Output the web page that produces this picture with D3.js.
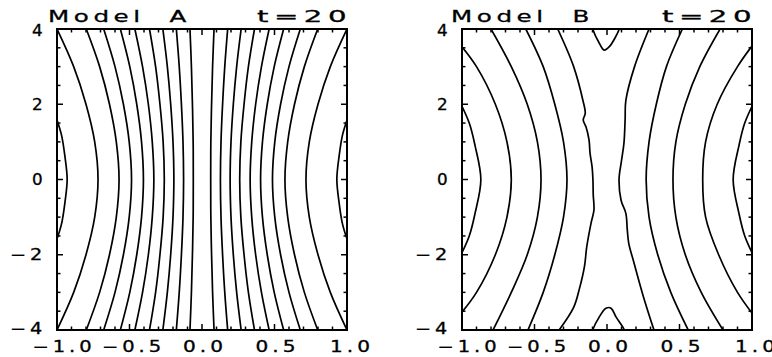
<!DOCTYPE html>
<html><head><meta charset="utf-8">
<script src="https://cdn.jsdelivr.net/npm/d3@7"></script>
<style>body{margin:0;background:#fff;} svg{display:block}</style>
</head><body><svg id="c" width="772" height="357"></svg>
<script>
// ---------- data ----------
const xTicks = [-1.0, -0.5, 0.0, 0.5, 1.0];
const xTickLabels = ["−1.0", "−0.5", "0.0", "0.5", "1.0"];
const yTicks = [-4, -2, 0, 2, 4];
const yTickLabels = ["−4", "−2", "0", "2", "4"];
const panelTitles = ["Model A", "Model B"];
const timeLabel = "t=20";

// Model A: x position of each contour at these y levels
const modelA_yLevels = [4, 3, 2, 1, 0, -1, -2, -3, -4];
const modelA_lines = [
  [-1.0, -0.885, -0.80, -0.74, -0.717, -0.74, -0.80, -0.885, -1.0],
  [-0.798, -0.706, -0.638, -0.591, -0.572, -0.591, -0.638, -0.706, -0.798],
  [-0.678, -0.600, -0.542, -0.502, -0.486, -0.502, -0.542, -0.600, -0.678],
  [-0.563, -0.498, -0.450, -0.417, -0.404, -0.417, -0.450, -0.498, -0.563],
  [-0.463, -0.410, -0.370, -0.343, -0.332, -0.343, -0.370, -0.410, -0.463],
  [-0.362, -0.320, -0.290, -0.268, -0.260, -0.268, -0.290, -0.320, -0.362],
  [-0.270, -0.239, -0.216, -0.200, -0.194, -0.200, -0.216, -0.239, -0.270],
  [-0.177, -0.157, -0.142, -0.131, -0.127, -0.131, -0.142, -0.157, -0.177],
  [-0.083, -0.073, -0.066, -0.061, -0.060, -0.061, -0.066, -0.073, -0.083],
  [0.083, 0.073, 0.066, 0.061, 0.060, 0.061, 0.066, 0.073, 0.083],
  [0.177, 0.157, 0.142, 0.131, 0.127, 0.131, 0.142, 0.157, 0.177],
  [0.270, 0.239, 0.216, 0.200, 0.194, 0.200, 0.216, 0.239, 0.270],
  [0.362, 0.320, 0.290, 0.268, 0.260, 0.268, 0.290, 0.320, 0.362],
  [0.463, 0.410, 0.370, 0.343, 0.332, 0.343, 0.370, 0.410, 0.463],
  [0.563, 0.498, 0.450, 0.417, 0.404, 0.417, 0.450, 0.498, 0.563],
  [0.678, 0.600, 0.542, 0.502, 0.486, 0.502, 0.542, 0.600, 0.678],
  [0.798, 0.706, 0.638, 0.591, 0.572, 0.591, 0.638, 0.706, 0.798],
  [1.0, 0.885, 0.80, 0.74, 0.717, 0.74, 0.80, 0.885, 1.0]
];
// Model A: small arcs touching the side walls, [x, y] points
const modelA_edgeArcs = [
  [[-1.02, 1.8], [-0.97, 1.2], [-0.945, 0.6], [-0.93, 0], [-0.945, -0.6], [-0.97, -1.2], [-1.02, -1.8]],
  [[1.02, 1.8], [0.97, 1.2], [0.945, 0.6], [0.93, 0], [0.945, -0.6], [0.97, -1.2], [1.02, -1.8]]
];

// Model B: contours as [x, y] points
const modelB_contours = [
  [[-1.02, 2.1], [-0.95, 1.5], [-0.91, 0.9], [-0.87, 0], [-0.91, -0.9], [-0.95, -1.5], [-1.02, -2.1]],
  [[-1.02, 3.62], [-0.90, 3.0], [-0.77, 2.0], [-0.69, 1.0], [-0.66, 0], [-0.69, -1.0], [-0.77, -2.0], [-0.90, -3.0], [-1.02, -3.62]],
  [[-0.80, 4], [-0.66, 3], [-0.55, 2], [-0.48, 1], [-0.455, 0], [-0.48, -1], [-0.55, -2], [-0.66, -3], [-0.786, -4]],
  [[-0.56, 4], [-0.44, 3], [-0.36, 2], [-0.30, 1], [-0.276, 0], [-0.30, -1], [-0.36, -2], [-0.44, -3], [-0.545, -4]],
  [[-0.34, 4], [-0.23, 3], [-0.166, 2.1], [-0.15, 1.76], [-0.164, 1.58], [-0.145, 1.4], [-0.124, 1.05], [-0.117, 0.7], [-0.103, 0.34], [-0.097, 0], [-0.095, -0.4], [-0.09, -0.81], [-0.11, -1.16], [-0.14, -1.8], [-0.155, -2.3], [-0.19, -2.9], [-0.23, -3.4], [-0.33, -4]],
  [[0.29, 4], [0.19, 3], [0.13, 2.1], [0.125, 1.6], [0.117, 0.97], [0.10, 0.5], [0.083, 0], [0.097, -0.55], [0.13, -0.9], [0.14, -1.34], [0.15, -1.7], [0.185, -2.2], [0.25, -3.1], [0.324, -4]],
  [[0.52, 4], [0.41, 3], [0.34, 2], [0.29, 1], [0.27, 0], [0.29, -1], [0.35, -2], [0.44, -3], [0.56, -4]],
  [[0.78, 4], [0.64, 3], [0.54, 2], [0.475, 1], [0.455, 0], [0.475, -1], [0.54, -2], [0.65, -3], [0.80, -4]],
  [[1.02, 3.65], [0.90, 3.0], [0.76, 2.0], [0.68, 1.0], [0.66, 0], [0.68, -1.0], [0.77, -2.0], [0.90, -3.0], [1.02, -3.65]],
  [[1.02, 2.1], [0.95, 1.5], [0.91, 0.9], [0.87, 0], [0.91, -0.9], [0.95, -1.5], [1.02, -2.1]],
  [[-0.105, 4.1], [-0.099, 4.0], [-0.053, 3.62], [-0.02, 3.44], [0.016, 3.53], [0.085, 4.0], [0.09, 4.1]],
  [[-0.105, -4.1], [-0.099, -4], [-0.053, -3.65], [-0.007, -3.42], [0.028, -3.42], [0.062, -3.65], [0.12, -4], [0.125, -4.1]]
];

// ---------- layout ----------
const svg = d3.select("#c");
const panels = [
  {left: 57, right: 347, top: 29, bottom: 330, title: panelTitles[0], titleDx: -9},
  {left: 462, right: 752, top: 29, bottom: 330, title: panelTitles[1], titleDx: -11}
];
const modelA_contours = modelA_lines.map(xs => modelA_yLevels.map((yy, i) => [xs[i], yy]))
  .concat(modelA_edgeArcs);
const contourSets = [modelA_contours, modelB_contours];
const FONT = "'DejaVu Sans', Arial, sans-serif";
const xLabelShift = [5, 2, 1, 1, 3];

function stretchedText(sel, txt, size, ls, len) {
  return sel.attr("font-family", FONT).attr("font-size", size)
    .attr("letter-spacing", ls).attr("textLength", len)
    .attr("lengthAdjust", "spacingAndGlyphs").attr("fill", "#000")
    .attr("stroke", "#000").attr("stroke-width", 0.3).text(txt);
}

panels.forEach((p, pi) => {
  const x = d3.scaleLinear().domain([-1, 1]).range([p.left, p.right]);
  const y = d3.scaleLinear().domain([-4, 4]).range([p.bottom, p.top]);
  const g = svg.append("g");
  const clipId = "clip" + pi;
  svg.append("clipPath").attr("id", clipId).append("rect")
    .attr("x", p.left).attr("y", p.top).attr("width", p.right - p.left).attr("height", p.bottom - p.top);

  const line = d3.line().x(d => x(d[0])).y(d => y(d[1])).curve(d3.curveCatmullRom.alpha(0.5));
  g.append("g").attr("clip-path", `url(#${clipId})`)
    .selectAll("path").data(contourSets[pi]).join("path")
    .attr("d", line).attr("fill", "none").attr("stroke", "#000").attr("stroke-width", 1.7)
    .attr("stroke-linejoin", "round");

  // frame
  g.append("rect").attr("x", p.left).attr("y", p.top)
    .attr("width", p.right - p.left).attr("height", p.bottom - p.top)
    .attr("fill", "none").attr("stroke", "#000").attr("stroke-width", 2);

  // ticks (inward, mirrored on all sides)
  const xMinor = x.ticks(20), yMinor = y.ticks(16);
  const tk = g.append("g").attr("stroke", "#000").attr("stroke-width", 1.5);
  xMinor.forEach(v => {
    const major = xTicks.some(t => Math.abs(t - v) < 1e-9);
    const L = major ? 6 : 3.5;
    tk.append("line").attr("x1", x(v)).attr("x2", x(v)).attr("y1", p.bottom).attr("y2", p.bottom - L);
    tk.append("line").attr("x1", x(v)).attr("x2", x(v)).attr("y1", p.top).attr("y2", p.top + L);
  });
  yMinor.forEach(v => {
    const major = yTicks.some(t => Math.abs(t - v) < 1e-9);
    const L = major ? 6 : 3.5;
    tk.append("line").attr("y1", y(v)).attr("y2", y(v)).attr("x1", p.left).attr("x2", p.left + L);
    tk.append("line").attr("y1", y(v)).attr("y2", y(v)).attr("x1", p.right).attr("x2", p.right - L);
  });

  // x tick labels
  xTicks.forEach((v, i) => {
    const lab = xTickLabels[i];
    const neg = lab.startsWith("−");
    stretchedText(g.append("text").attr("x", x(v) + xLabelShift[i] + 2).attr("y", 352)
      .attr("text-anchor", "middle"), lab, 15, 3, neg ? 63 : 44);
  });
  // y tick labels
  yTicks.forEach((v, i) => {
    const lab = yTickLabels[i];
    const neg = lab.startsWith("−");
    stretchedText(g.append("text").attr("x", p.left - 11).attr("y", y(v) + (v === 4 ? 2 : v === -4 ? -1 : 0))
      .attr("dy", "0.36em").attr("text-anchor", "end"), lab, 15, 3, neg ? 36 : 14);
  });

  // titles
  stretchedText(g.append("text").attr("x", p.left + p.titleDx).attr("y", 22),
    p.title.replace(" ", "\u00A0\u00A0"), 16, 3, 143);
  stretchedText(g.append("text").attr("x", p.right + 5).attr("y", 22).attr("text-anchor", "end"),
    timeLabel, 16, 3, 95);
});
</script></body></html>
